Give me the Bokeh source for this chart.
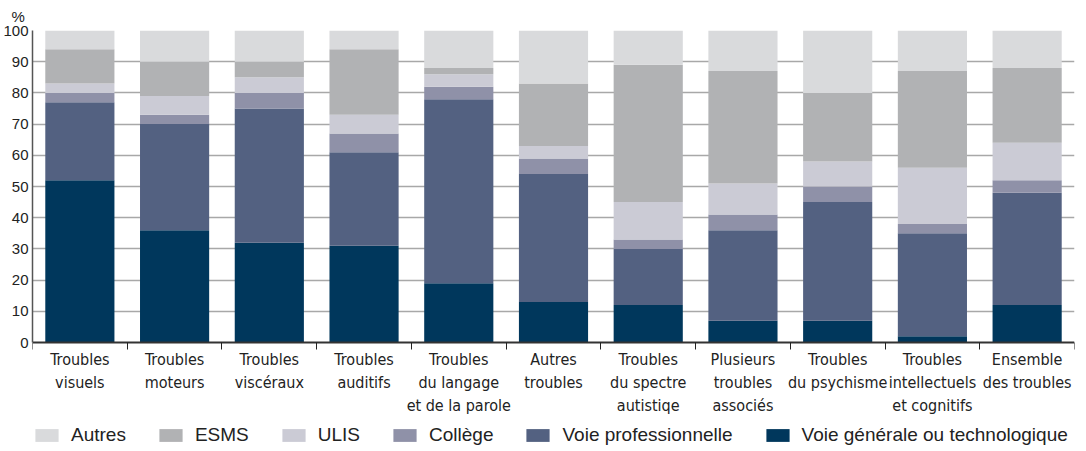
from bokeh.plotting import figure
from bokeh.models import Range1d, FixedTicker, Legend, LegendItem, ColumnDataSource, Title
from bokeh.embed import file_html
from bokeh.resources import INLINE

categories = ["Troubles\nvisuels", "Troubles\nmoteurs", "Troubles\nviscéraux", "Troubles\nauditifs",
              "Troubles\ndu langage\net de la parole", "Autres\ntroubles", "Troubles\ndu spectre\nautistiqe",
              "Plusieurs\ntroubles\nassociés", "Troubles\ndu psychisme", "Troubles\nintellectuels\net cognitifs",
              "Ensemble\ndes troubles"]

vgt = [52, 36, 32, 31, 19, 13, 12, 7, 7, 2, 12]
vp = [25, 34, 43, 30, 59, 41, 18, 29, 38, 33, 36]
college = [3, 3, 5, 6, 4, 5, 3, 5, 5, 3, 4]
ulis = [3, 6, 5, 6, 4, 4, 12, 10, 8, 18, 12]
esms = [11, 11, 5, 21, 2, 20, 44, 36, 22, 31, 24]
autres = [6, 10, 10, 6, 12, 17, 11, 13, 20, 13, 12]

series = ["Voie générale ou technologique", "Voie professionnelle", "Collège", "ULIS", "ESMS", "Autres"]
keys = ["vgt", "vp", "college", "ulis", "esms", "autres"]
colors = ["#00375C", "#536181", "#8F91A8", "#CBCBD5", "#B1B2B4", "#D9DADC"]
y_ticks = list(range(0, 101, 10))

n = len(categories)
pos = [i + 0.5 for i in range(n)]
bounds = [i for i in range(n + 1)]

src = ColumnDataSource(dict(x=pos, vgt=vgt, vp=vp, college=college, ulis=ulis, esms=esms, autres=autres))

TXT = "#222222"

# plot area: 312 px for 0..100, plus 105 px below zero for the category labels and legend
PLOT_H = 312
EXTRA_H = 105
y_start = -100.0 * EXTRA_H / PLOT_H

p = figure(frame_width=1042, frame_height=PLOT_H + EXTRA_H, x_range=Range1d(0, n),
           y_range=Range1d(y_start, 100),
           output_backend="svg", toolbar_location=None, min_border_left=0,
           min_border_right=2, min_border_top=0, min_border_bottom=0)
p.outline_line_color = None

p.title = Title(text="%", align="left", text_font_size="15px", text_font_style="normal",
                text_color=TXT, text_font="Liberation Sans", offset=-21, standoff=11)

rs = p.vbar_stack(keys, x="x", width=0.73, source=src, color=colors, line_color=None)

# axes
xa = p.xaxis[0]
xa.fixed_location = 0
xa.ticker = FixedTicker(ticks=pos, minor_ticks=bounds)
xa.major_label_overrides = {pos[i]: categories[i] for i in range(n)}
xa.major_tick_line_color = None
xa.major_tick_out = 0
xa.major_tick_in = 0
xa.minor_tick_out = 7
xa.minor_tick_in = 0
xa.minor_tick_line_color = "#222222"
xa.minor_tick_line_width = 1
xa.axis_line_color = "#333333"
xa.axis_line_width = 2
xa.major_label_standoff = 0
xa.major_label_text_font = "DejaVu Sans Condensed"
xa.major_label_text_font_size = "16px"
xa.major_label_text_color = TXT
xa.major_label_text_line_height = 1.22

ya = p.yaxis[0]
ya.bounds = (0, 100)
ya.ticker = FixedTicker(ticks=y_ticks)
ya.major_tick_line_color = None
ya.minor_tick_line_color = None
ya.major_tick_out = 0
ya.major_tick_in = 0
ya.axis_line_color = "#555555"
ya.axis_line_width = 1.5
ya.major_label_standoff = 4
ya.major_label_text_font = "Liberation Sans"
ya.major_label_text_font_size = "15px"
ya.major_label_text_color = TXT

p.xgrid.grid_line_color = None
p.ygrid.ticker = FixedTicker(ticks=y_ticks[1:])
p.ygrid.grid_line_color = "#A8A8A8"
p.ygrid.grid_line_width = 1.5

items = [LegendItem(label=series[i], renderers=[rs[i]]) for i in reversed(range(len(series)))]
legend = Legend(items=items, orientation="horizontal", glyph_width=29, glyph_height=16,
                label_standoff=10, spacing=30, padding=0, margin=0,
                border_line_color=None, background_fill_alpha=0,
                label_text_font="Liberation Sans", label_text_font_size="19px",
                label_text_color=TXT, location=(0, 1))
p.add_layout(legend, "center")

open("out.html", "w").write(file_html(p, INLINE))
